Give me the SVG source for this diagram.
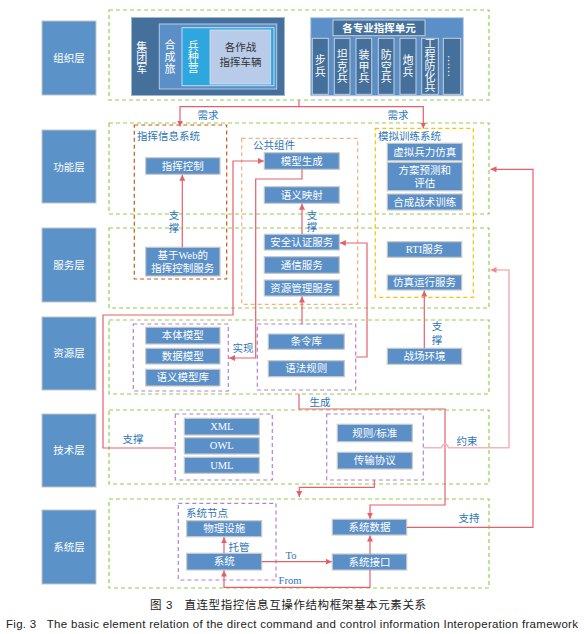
<svg xmlns="http://www.w3.org/2000/svg" width="584" height="634" viewBox="0 0 584 634">
<style>
.lay{fill:#5b93c9;stroke:#c4c4c4;stroke-width:1}
.nd{fill:#5b8fc7;stroke:#c8c8c8;stroke-width:1.2}
.dk{fill:#44709b;stroke:#c8cfd8;stroke-width:1}
.g{fill:none;stroke:#92d050;stroke-width:1.2;stroke-dasharray:4 3}
.pu{fill:none;stroke:#b77fd1;stroke-width:1.2;stroke-dasharray:4 3}
.t{font-family:"Liberation Serif","Noto Sans CJK SC",serif;font-size:10.5px;fill:#fff;text-anchor:middle;dominant-baseline:central}
.tv{font-family:"Liberation Serif","Noto Sans CJK SC",serif;font-size:11px;fill:#fff;text-anchor:middle;dominant-baseline:central}
.lb{font-family:"Liberation Serif","Noto Sans CJK SC",serif;font-size:10.5px;fill:#2e75b6;text-anchor:middle;dominant-baseline:central}
.ls{font-family:"Liberation Serif","Noto Sans CJK SC",serif;font-size:10.5px;fill:#2e75b6;dominant-baseline:central}
.ln{fill:none;stroke:#e5606b;stroke-width:1.2}
.pk{fill:none;stroke:#f4b6bb;stroke-width:1.6}
.cap{font-family:"Liberation Sans","Noto Sans CJK SC",sans-serif;font-size:11.5px;fill:#222}
</style>
<defs>
<marker id="ar" markerUnits="userSpaceOnUse" markerWidth="7" markerHeight="6" refX="6" refY="3" orient="auto"><path d="M0,0 L6,3 L0,6 z" fill="#e5606b"/></marker>
<marker id="ap" markerUnits="userSpaceOnUse" markerWidth="7" markerHeight="6" refX="6" refY="3" orient="auto"><path d="M0,0 L6,3 L0,6 z" fill="#f08a92"/></marker>
</defs>

<!-- layer labels -->
<g id="layer-org"><rect class="lay" x="42" y="21" width="54" height="74"/><text class="t" x="69" y="58">组织层</text></g>
<g id="layer-func"><rect class="lay" x="42" y="130" width="54" height="73"/><text class="t" x="69" y="167">功能层</text></g>
<g id="layer-serv"><rect class="lay" x="42" y="228" width="54" height="74"/><text class="t" x="69" y="265">服务层</text></g>
<g id="layer-res"><rect class="lay" x="42" y="317" width="54" height="73"/><text class="t" x="69" y="353">资源层</text></g>
<g id="layer-tech"><rect class="lay" x="42" y="414" width="54" height="73"/><text class="t" x="69" y="450">技术层</text></g>
<g id="layer-sys"><rect class="lay" x="42" y="510" width="54" height="74"/><text class="t" x="69" y="547">系统层</text></g>

<!-- layer frames -->
<g id="frames">
<rect class="g" x="109" y="10" width="380" height="90"/>
<rect class="g" x="109" y="123" width="380" height="91"/>
<rect class="g" x="109" y="228" width="380" height="80"/>
<rect class="g" x="109" y="320" width="380" height="74"/>
<rect class="g" x="109" y="410" width="380" height="74"/>
<rect class="g" x="109" y="499" width="380" height="89"/>
</g>

<!-- organization layer -->
<g id="org-army">
<rect x="131.5" y="17.5" width="153" height="78" fill="#44709b" stroke="#9fb6cf" stroke-width="1"/>
<text class="tv" x="141.7" y="46.5">集</text><text class="tv" x="141.7" y="57.5">团</text><text class="tv" x="141.7" y="68.5">军</text>
<rect x="159.3" y="24" width="117.4" height="65" fill="#5b8fc7" stroke="#b5cbe6" stroke-width="1"/>
<text class="tv" x="170" y="44.5">合</text><text class="tv" x="170" y="56.5">成</text><text class="tv" x="170" y="68.5">旅</text>
<rect x="182" y="27.7" width="92" height="58" fill="#2ea6de" stroke="#c6dcf0" stroke-width="1"/>
<text class="tv" x="193.3" y="45.5">兵</text><text class="tv" x="193.3" y="56.5">种</text><text class="tv" x="193.3" y="68">营</text>
<rect x="210" y="30" width="60.7" height="54" fill="#b8cbe8" stroke="#d8e2f0" stroke-width="0.8"/>
<text class="t" x="240.5" y="47" style="fill:#333">各作战</text>
<text class="t" x="240.5" y="62" style="fill:#333">指挥车辆</text>
</g>
<g id="org-units">
<rect x="310.7" y="17.7" width="152.6" height="78" fill="#5b8fc7" stroke="#b5cbe6" stroke-width="1"/>
<rect class="dk" x="333" y="20" width="92" height="15.7"/>
<text class="t" x="379" y="28" style="font-weight:bold">各专业指挥单元</text>
<rect class="dk" x="312.3" y="38.3" width="16" height="56"/>
<text class="tv" x="320.3" y="60">步</text><text class="tv" x="320.3" y="71.7">兵</text>
<rect class="dk" x="334.3" y="38.3" width="15.7" height="56"/>
<text class="tv" x="342.2" y="55">坦</text><text class="tv" x="342.2" y="66.5">克</text><text class="tv" x="342.2" y="77.7">兵</text>
<rect class="dk" x="356" y="38.3" width="15.7" height="56"/>
<text class="tv" x="363.9" y="55">装</text><text class="tv" x="363.9" y="66.5">甲</text><text class="tv" x="363.9" y="77.7">兵</text>
<rect class="dk" x="378.3" y="38.3" width="15.7" height="56"/>
<text class="tv" x="386.2" y="55">防</text><text class="tv" x="386.2" y="66.5">空</text><text class="tv" x="386.2" y="77.7">兵</text>
<rect class="dk" x="400" y="38.3" width="16" height="56"/>
<text class="tv" x="408" y="60">炮</text><text class="tv" x="408" y="71.7">兵</text>
<rect class="dk" x="421.7" y="38.3" width="16.6" height="56"/>
<text class="tv" x="430" y="44">工</text><text class="tv" x="430" y="55">程</text><text class="tv" x="430" y="66">防</text><text class="tv" x="430" y="76.5">化</text><text class="tv" x="430" y="87">兵</text>
<rect class="dk" x="443.3" y="38.3" width="17.4" height="56"/>
<text class="tv" x="0" y="0" transform="translate(452,66) rotate(90)">……</text>
</g>

<!-- function layer -->
<g id="cmd-info-sys">
<rect x="134.3" y="125" width="92.4" height="154" fill="none" stroke="#c55a11" stroke-width="1.2" stroke-dasharray="4 3"/>
<text class="ls" x="137" y="136">指挥信息系统</text>
</g>
<g id="common-comp">
<rect x="241.7" y="138.3" width="116" height="166" fill="none" stroke="#f4b183" stroke-width="1.2" stroke-dasharray="4 3"/>
<text class="ls" x="253" y="145">公共组件</text>
</g>
<g id="sim-train-sys">
<rect x="375.3" y="128.3" width="98" height="169" fill="none" stroke="#ffc000" stroke-width="1.2" stroke-dasharray="4 3"/>
<text class="ls" x="378" y="136">模拟训练系统</text>
</g>
<g id="n-cmdctrl"><rect class="nd" x="145.7" y="157.7" width="74.3" height="16.6"/><text class="t" x="182.8" y="166">指挥控制</text></g>
<g id="n-modelgen"><rect class="nd" x="264.3" y="152.7" width="75" height="16.6"/><text class="t" x="301.8" y="161">模型生成</text></g>
<g id="n-semmap"><rect class="nd" x="264.3" y="186.7" width="75" height="16.6"/><text class="t" x="301.8" y="195">语义映射</text></g>
<g id="n-virt"><rect class="nd" x="387.3" y="143.3" width="75" height="17.4"/><text class="t" x="424.8" y="152">虚拟兵力仿真</text></g>
<g id="n-plan"><rect class="nd" x="387.3" y="162.3" width="75" height="28.4"/><text class="t" x="424.8" y="170">方案预测和</text><text class="t" x="424.8" y="183">评估</text></g>
<g id="n-tact"><rect class="nd" x="387.3" y="194" width="75" height="16"/><text class="t" x="424.8" y="202">合成战术训练</text></g>

<!-- service layer -->
<g id="n-web"><rect class="nd" x="145.7" y="247.3" width="74.3" height="28.7"/><text class="t" x="182.8" y="255">基于Web的</text><text class="t" x="182.8" y="268">指挥控制服务</text></g>
<g id="n-auth"><rect class="nd" x="264.3" y="234.3" width="75" height="15.7"/><text class="t" x="301.8" y="242.2">安全认证服务</text></g>
<g id="n-comm"><rect class="nd" x="264.3" y="256.7" width="75" height="16.6"/><text class="t" x="301.8" y="265">通信服务</text></g>
<g id="n-resmgr"><rect class="nd" x="264.3" y="280" width="75" height="16"/><text class="t" x="301.8" y="288">资源管理服务</text></g>
<g id="n-rti"><rect class="nd" x="387.3" y="241.7" width="74.4" height="15.6"/><text class="t" x="424.5" y="249.5">RTI服务</text></g>
<g id="n-simrun"><rect class="nd" x="387.3" y="275" width="74.4" height="15"/><text class="t" x="424.5" y="282.5">仿真运行服务</text></g>

<!-- resource layer -->
<g id="res-models">
<rect class="pu" x="133.3" y="324" width="95" height="67"/>
<rect class="nd" x="145.7" y="327.3" width="74.3" height="16.7"/><text class="t" x="182.8" y="335.6">本体模型</text>
<rect class="nd" x="145.7" y="348.3" width="74.3" height="15.7"/><text class="t" x="182.8" y="356.2">数据模型</text>
<rect class="nd" x="145.7" y="369.3" width="74.3" height="16.7"/><text class="t" x="182.8" y="377.6">语义模型库</text>
</g>
<g id="res-rules">
<rect class="pu" x="257.3" y="324" width="98.4" height="66"/>
<rect class="nd" x="268.3" y="334" width="76" height="15.3"/><text class="t" x="306.3" y="341.7">条令库</text>
<rect class="nd" x="268.3" y="360.7" width="76" height="16"/><text class="t" x="306.3" y="368.7">语法规则</text>
</g>
<g id="n-battle"><rect class="nd" x="387.3" y="348.3" width="74.4" height="16"/><text class="t" x="424.5" y="356.3">战场环境</text></g>

<!-- technology layer -->
<g id="tech-lang">
<rect class="pu" x="175.3" y="414" width="97" height="66"/>
<rect class="nd" x="184.3" y="418.3" width="75" height="16.7"/><text class="t" x="221.8" y="426.6">XML</text>
<rect class="nd" x="184.3" y="437.7" width="75" height="16.3"/><text class="t" x="221.8" y="445.8">OWL</text>
<rect class="nd" x="184.3" y="457.3" width="75" height="16"/><text class="t" x="221.8" y="465.3">UML</text>
</g>
<g id="tech-std">
<rect class="pu" x="326.7" y="414" width="96.6" height="66"/>
<rect class="nd" x="337.3" y="424.3" width="75" height="17.4"/><text class="t" x="374.8" y="433">规则/标准</text>
<rect class="nd" x="337.3" y="452.3" width="75" height="16.7"/><text class="t" x="374.8" y="460.6">传输协议</text>
</g>

<!-- system layer -->
<g id="sys-node">
<rect class="pu" x="178.3" y="503.3" width="97.7" height="76.7"/>
<text class="ls" x="186" y="513">系统节点</text>
<rect class="nd" x="186.7" y="520.7" width="75" height="16"/><text class="t" x="224.2" y="528.7">物理设施</text>
<rect class="nd" x="186.7" y="553.3" width="75" height="16.7"/><text class="t" x="224.2" y="561.6">系统</text>
</g>
<g id="n-sysdata"><rect class="nd" x="332.3" y="519.3" width="74.4" height="15.7"/><text class="t" x="369.5" y="527.2">系统数据</text></g>
<g id="n-sysif"><rect class="nd" x="332.3" y="554" width="74.4" height="16"/><text class="t" x="369.5" y="562">系统接口</text></g>

<!-- connectors -->
<g id="connectors">
<path class="ln" d="M299,100 V106.7 H180 V126.5" marker-end="url(#ar)"/>
<path class="ln" d="M299,106.7 H423.3 V128.5" marker-end="url(#ar)"/>
<path class="ln" d="M182.3,247.3 V174.8" marker-end="url(#ar)"/>
<path class="ln" d="M302,234.3 V203.8" marker-end="url(#ar)"/>
<path class="ln" d="M302,169.3 V179 H255.7 V358 H229" marker-end="url(#ar)"/>
<path class="ln" d="M175.3,448 H103 V315 H233 V161 H263.8" marker-end="url(#ar)"/>
<path class="ln" d="M355.7,357 H367 V243 H339.8" marker-end="url(#ar)"/>
<path class="ln" d="M302,324 V296.5" marker-end="url(#ar)"/>
<path class="ln" d="M424.3,348.3 V290.5" marker-end="url(#ar)"/>
<path class="ln" d="M299,394 V409 H445 V505 H370 V518.8" marker-end="url(#ar)"/>
<path class="ln" d="M374.3,480 V487.3 H299.3 V497" marker-end="url(#ar)"/>
<path class="pk" d="M423.3,447.7 H441.5 Q445,440 448.5,447.7 H509 V270 H490.5" marker-end="url(#ap)"/>
<path class="ln" d="M406.7,527.3 H533 V169.3 H490.5" marker-end="url(#ar)"/>
<path class="ln" d="M224,553.3 V537.2" marker-end="url(#ar)"/>
<path class="ln" d="M261.7,561.7 H331.8" marker-end="url(#ar)"/>
<path class="ln" d="M370,554 V535.5" marker-end="url(#ar)"/>
<path class="ln" d="M370,570 V587.3 H224 V570.5" marker-end="url(#ar)"/>
</g>

<!-- connector labels -->
<g id="labels">
<text class="lb" x="208" y="115">需求</text>
<text class="lb" x="398" y="115">需求</text>
<text class="lb" x="174" y="215">支</text><text class="lb" x="174" y="228">撑</text>
<text class="lb" x="312" y="215">支</text><text class="lb" x="312" y="227">撑</text>
<text class="lb" x="243" y="348">实现</text>
<text class="lb" x="437" y="326">支</text><text class="lb" x="437" y="340">撑</text>
<text class="lb" x="320" y="402">生成</text>
<text class="lb" x="133" y="439">支撑</text>
<text class="lb" x="467" y="441">约束</text>
<text class="lb" x="469" y="518">支持</text>
<text class="lb" x="239" y="547">托管</text>
<text class="lb" x="291" y="555">To</text>
<text class="lb" x="290" y="580">From</text>
</g>

<!-- caption -->
<text class="cap" x="150" y="609" xml:space="preserve" textLength="276" lengthAdjust="spacing">图 3   直连型指控信息互操作结构框架基本元素关系</text>
<text class="cap" x="6" y="628" xml:space="preserve" textLength="572" lengthAdjust="spacing">Fig. 3   The basic element relation of the direct command and control information Interoperation framework</text>
</svg>
